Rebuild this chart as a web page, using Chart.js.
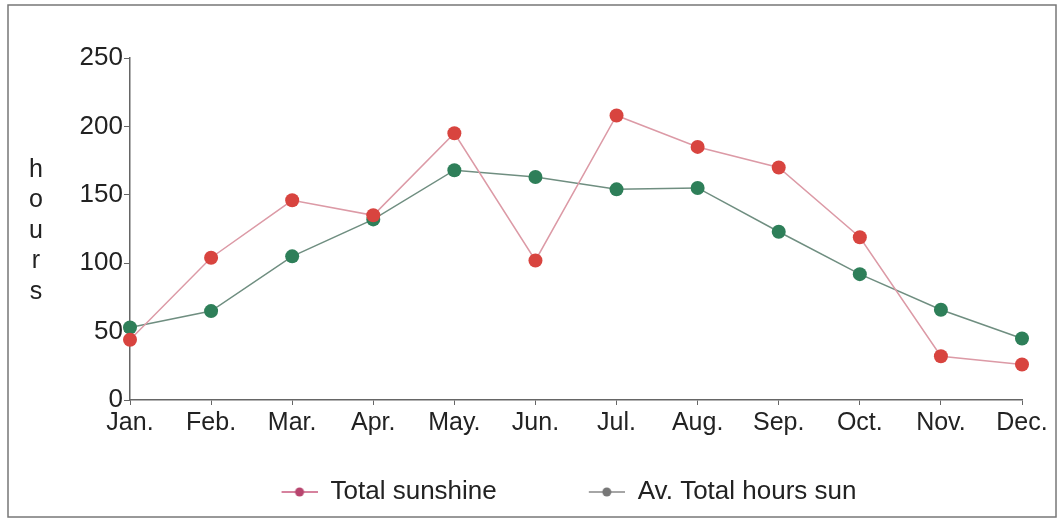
<!DOCTYPE html>
<html>
<head>
<meta charset="utf-8">
<script src="https://cdn.jsdelivr.net/npm/chart.js@4/dist/chart.umd.min.js"></script>
<style>
  html, body { margin: 0; padding: 0; background: #fff; }
  #wrap { position: relative; width: 1059px; height: 521px; }
</style>
</head>
<body>
<div id="wrap"><canvas id="sunChart"></canvas></div>
<script>
// monthly sunshine hours
const months = ['Jan.', 'Feb.', 'Mar.', 'Apr.', 'May.', 'Jun.', 'Jul.', 'Aug.', 'Sep.', 'Oct.', 'Nov.', 'Dec.'];
const totalSunshine = [44, 104, 146, 135, 195, 102, 208, 185, 170, 119, 32, 26];
const avTotalHours = [53, 65, 105, 132, 168, 163, 154, 155, 123, 92, 66, 45];
const axisTitle = ['h', 'o', 'u', 'r', 's'];

const FONT = 'Liberation Sans, Arial, sans-serif';
const MARK_W = 118; // legend box width, marker sits at its right end

// line+dot marker for the legend, blank space on the left gives the item gap
function legendMarker(lineColor, dotColor) {
  const c = document.createElement('canvas');
  c.width = MARK_W; c.height = 12;
  const g = c.getContext('2d');
  const x0 = MARK_W - 36;
  g.strokeStyle = lineColor;
  g.lineWidth = 1.5;
  g.beginPath(); g.moveTo(x0, 6); g.lineTo(MARK_W, 6); g.stroke();
  g.fillStyle = dotColor;
  g.beginPath(); g.arc(x0 + 18, 6, 4.5, 0, Math.PI * 2); g.fill();
  return c;
}
const legendImgs = [legendMarker('#c9587e', '#b8456e'), legendMarker('#888', '#777')];

const framePlugin = {
  id: 'frame',
  afterDraw(chart) {
    const ctx = chart.ctx;
    ctx.save();
    ctx.strokeStyle = '#777';
    ctx.lineWidth = 1.5;
    ctx.strokeRect(8, 5, 1048, 512);
    // stacked y-axis title
    ctx.fillStyle = '#222';
    ctx.font = '25px ' + FONT;
    ctx.textAlign = 'center';
    ctx.textBaseline = 'middle';
    axisTitle.forEach((ch, i) => ctx.fillText(ch, 36, 170 + i * 30.5));
    ctx.restore();
  }
};

new Chart(document.getElementById('sunChart').getContext('2d'), {
  type: 'line',
  data: {
    labels: months,
    datasets: [
      {
        label: 'Total sunshine',
        data: totalSunshine,
        borderColor: '#dc9aa6',
        borderWidth: 1.5,
        backgroundColor: '#d8443f',
        pointBackgroundColor: '#d8443f',
        pointBorderWidth: 0,
        pointRadius: 7,
        tension: 0
      },
      {
        label: 'Av. Total hours sun',
        data: avTotalHours,
        borderColor: '#6f8e80',
        borderWidth: 1.5,
        backgroundColor: '#2e7f59',
        pointBackgroundColor: '#2e7f59',
        pointBorderWidth: 0,
        pointRadius: 7,
        tension: 0
      }
    ]
  },
  options: {
    responsive: true,
    maintainAspectRatio: false,
    animation: false,
    layout: { padding: { left: 34, right: 37, top: 58, bottom: 6 } },
    plugins: {
      tooltip: { enabled: false },
      legend: {
        position: 'bottom',
        labels: {
          usePointStyle: true,
          pointStyleWidth: MARK_W,
          color: '#222',
          font: { family: FONT, size: 26 },
          padding: 10,
          generateLabels(chart) {
            return chart.data.datasets.map((ds, i) => ({
              text: ds.label,
              pointStyle: legendImgs[i],
              fillStyle: ds.backgroundColor,
              strokeStyle: ds.borderColor,
              lineWidth: 0,
              hidden: false,
              datasetIndex: i,
              fontColor: '#222'
            }));
          }
        }
      }
    },
    scales: {
      x: {
        offset: false,
        border: { color: '#666', width: 1.5 },
        grid: { display: true, drawOnChartArea: false, tickLength: 5, color: '#666', offset: false },
        ticks: { color: '#222', font: { family: FONT, size: 25 }, padding: 3, maxRotation: 0, autoSkip: false },
        afterFit(scale) { scale.height = 69; }
      },
      y: {
        min: 0,
        max: 250,
        border: { color: '#666', width: 1.5 },
        grid: { display: true, drawOnChartArea: false, tickLength: 6, color: '#666' },
        ticks: { stepSize: 50, color: '#222', font: { family: FONT, size: 26 }, padding: 1 },
        afterFit(scale) { scale.width = 96; }
      }
    }
  },
  plugins: [framePlugin]
});
</script>
</body>
</html>
